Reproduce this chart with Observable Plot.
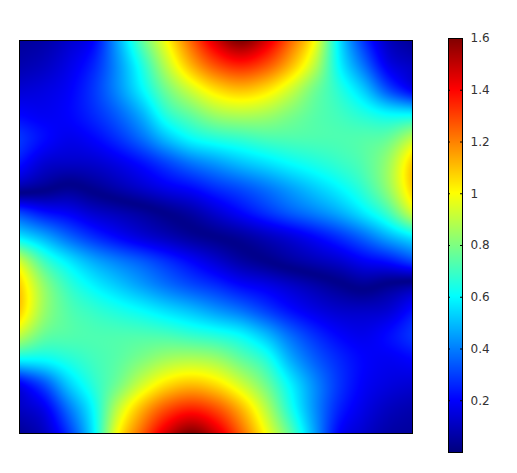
<!DOCTYPE html>
<html><head><meta charset="utf-8">
<style>html,body{margin:0;padding:0;background:#fff}#c{position:relative;width:517px;height:473px}#c>*{position:absolute;left:0;top:0}</style>
<script src="https://cdn.jsdelivr.net/npm/d3@7"></script>
<script src="https://cdn.jsdelivr.net/npm/@observablehq/plot@0.6"></script>
</head><body><div id="c"></div>
<script>
// Field; the sign marks the side of the dark valley, the drawn value is its magnitude.
const row0=[.04,.06,.12,.2,.46,.75,1.0,1.25,1.47,1.6,1.47,1.25,1.0,.57,.28,.1,.03];
const row1=[.07,.1,.16,.25,.43,.65,.9,1.12,1.28,1.35,1.28,1.12,.9,.6,.38,.17,.1];
const row2=[.13,.15,.19,.28,.42,.59,.78,.93,1.05,1.1,1.05,.93,.78,.66,.52,.32,.18];
const row3=[.2,.18,.2,.26,.35,.48,.66,.76,.85,.88,.86,.8,.74,.7,.65,.6,.59];
const row4=[.28,.21,.17,.2,.27,.37,.5,.6,.65,.68,.71,.72,.72,.72,.73,.76,.9];
const row5=[.22,.13,.11,.12,.16,.22,.3,.38,.44,.5,.55,.6,.64,.68,.73,.84,1.08];
const row6=[.06,.02,-.02,.02,.07,.12,.17,.21,.27,.32,.38,.45,.52,.59,.68,.83,1.08];
const row7=[-.3,-.22,-.18,-.12,-.08,-.04,.01,.06,.13,.2,.27,.34,.4,.47,.57,.7,.93];
const row8=[-.57,-.47,-.36,-.27,-.2,-.14,-.09,-.04,0,.04,.09,.14,.2,.27,.36,.47,.57];
const row9=[-.93,-.7,-.57,-.47,-.4,-.34,-.27,-.2,-.13,-.06,-.01,.04,.08,.12,.18,.22,.3];
const row10=[-1.08,-.83,-.68,-.59,-.52,-.45,-.38,-.32,-.27,-.21,-.17,-.12,-.07,-.02,.02,-.02,-.06];
const row11=[-1.08,-.84,-.73,-.68,-.64,-.6,-.55,-.5,-.44,-.38,-.3,-.22,-.16,-.12,-.11,-.13,-.22];
const row12=[-.9,-.76,-.73,-.72,-.72,-.72,-.71,-.68,-.65,-.6,-.5,-.37,-.27,-.2,-.17,-.21,-.28];
const row13=[-.59,-.6,-.65,-.7,-.74,-.8,-.86,-.88,-.85,-.76,-.66,-.48,-.35,-.26,-.2,-.18,-.2];
const row14=[-.18,-.32,-.52,-.66,-.78,-.93,-1.05,-1.1,-1.05,-.93,-.78,-.59,-.42,-.28,-.19,-.15,-.13];
const row15=[-.1,-.17,-.38,-.6,-.9,-1.12,-1.28,-1.35,-1.28,-1.12,-.9,-.65,-.43,-.25,-.16,-.1,-.07];
const row16=[-.03,-.1,-.28,-.57,-1.0,-1.25,-1.47,-1.6,-1.47,-1.25,-1.0,-.75,-.46,-.2,-.12,-.06,-.04];
const rows=[row0,row1,row2,row3,row4,row5,row6,row7,row8,row9,row10,row11,row12,row13,row14,row15,row16];
const tickValues=[.2,.4,.6,.8,1,1.2,1.4,1.6];
const jetStops=[0,.2,.6,1,1.4,1.6];
const jetColors=["#00007f","#0000ff","#00ffff","#ffff00","#ff0000","#7f0000"];

const points=[];
rows.forEach((r,j)=>r.forEach((v,i)=>points.push({x:i,y:j,v})));
const color={type:"linear",domain:jetStops,range:jetColors,interpolate:"rgb",clamp:true};

// Smooth resampling of the grid inside the raster mark (Catmull-Rom), drawn as magnitude.
function smooth(index,w,h,X,Y,V){
  const n=rows.length, last=n*rows[0].length-1;
  const x0=X[0],y0=Y[0],dx=(X[last]-x0)/16,dy=(Y[last]-y0)/16;
  const at=(i,j)=>{
    const a=Math.max(0,Math.min(16,i)),b=Math.max(0,Math.min(16,j));
    let v=V[b*17+a];
    if(i<0) v=2*V[b*17]-V[b*17+1]; else if(i>16) v=2*V[b*17+16]-V[b*17+15];
    if(j<0) v=2*V[a]-V[17+a]; else if(j>16) v=2*V[16*17+a]-V[15*17+a];
    return v;
  };
  const cr=(p0,p1,p2,p3,t)=>.5*(2*p1+(p2-p0)*t+(2*p0-5*p1+4*p2-p3)*t*t+(3*p1-p0-3*p2+p3)*t*t*t);
  const W=new Float64Array(w*h);
  for(let r=0;r<h;r++)for(let c=0;c<w;c++){
    const gx=Math.max(0,Math.min(15.9999,(c+.5-x0)/dx)),gy=Math.max(0,Math.min(15.9999,(r+.5-y0)/dy));
    const i=Math.floor(gx),j=Math.floor(gy),tx=gx-i,ty=gy-j;
    const q=[-1,0,1,2].map(m=>cr(at(i-1,j+m),at(i,j+m),at(i+1,j+m),at(i+2,j+m),tx));
    const s=cr(q[0],q[1],q[2],q[3],ty);
    W[r*w+c]=Math.sqrt(s*s+.0004);
  }
  return W;
}

const main=Plot.plot({
  width:517,height:473,marginLeft:19,marginRight:105,marginTop:40,marginBottom:40,
  x:{domain:[0,16],axis:null},y:{domain:[16,0],axis:null},color,
  marks:[
    Plot.raster(points,{x:"x",y:"y",fill:"v",x1:0,x2:16,y1:16,y2:0,pixelSize:1,interpolate:smooth}),
    Plot.frame({stroke:"#000"})
  ]
});
const barValues=d3.range(0,1.6,1.6/414);
const bar=Plot.plot({
  width:517,height:473,marginLeft:448,marginRight:55,marginTop:38,marginBottom:21,
  x:{domain:[0,1],axis:null},y:{domain:[0,1.6],axis:null},color,
  style:{background:"transparent",overflow:"visible"},
  marks:[
    Plot.rect(barValues,{x1:0,x2:1,y1:d=>d,y2:d=>Math.min(1.6,d+1.6/414+.002),fill:d=>d}),
    Plot.ruleY(tickValues,{x1:0,x2:.14,stroke:"#000"}),
    Plot.ruleY(tickValues,{x1:.86,x2:1,stroke:"#000"}),
    Plot.axisY(tickValues,{anchor:"right",tickSize:0,tickPadding:8,fontSize:12,fontFamily:"DejaVu Sans",color:"#333",tickFormat:d3.format("~g"),label:null}),
    Plot.frame({stroke:"#000"})
  ]
});
main.style.background="transparent";
document.getElementById("c").append(main,bar);
</script></body></html>
